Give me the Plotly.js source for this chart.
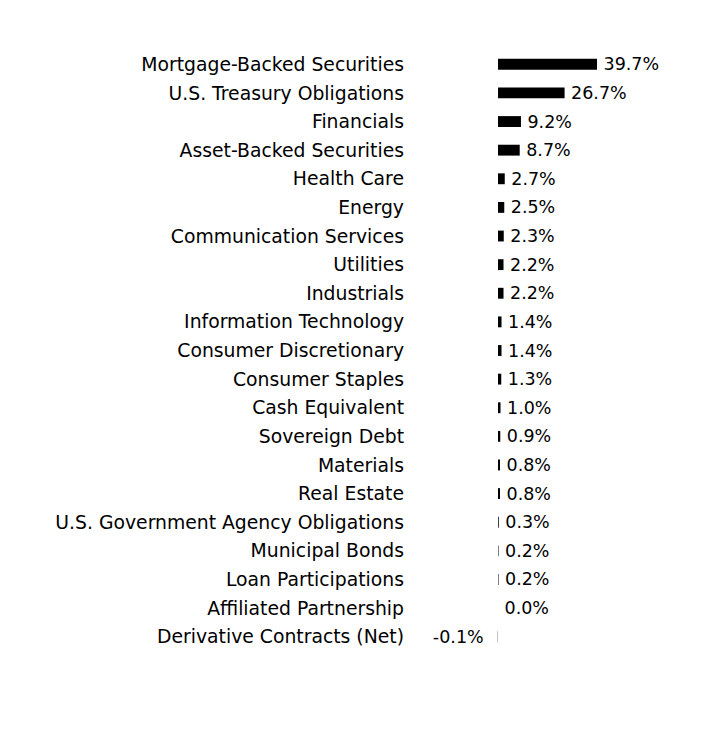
<!DOCTYPE html>
<html><head><meta charset="utf-8">
<script src="https://cdn.plot.ly/plotly-3.0.1.min.js"></script>
<style>html,body{margin:0;padding:0;background:#fff}</style>
</head><body><div id="chart" style="width:708px;height:732px"></div>
<script>
const categories = ["Mortgage-Backed Securities","U.S. Treasury Obligations","Financials","Asset-Backed Securities","Health Care","Energy","Communication Services","Utilities","Industrials","Information Technology","Consumer Discretionary","Consumer Staples","Cash Equivalent","Sovereign Debt","Materials","Real Estate","U.S. Government Agency Obligations","Municipal Bonds","Loan Participations","Affiliated Partnership","Derivative Contracts (Net)"];
const values = [39.7,26.7,9.2,8.7,2.7,2.5,2.3,2.2,2.2,1.4,1.4,1.3,1.0,0.9,0.8,0.8,0.3,0.2,0.2,0.0,-0.1];
const labels = values.map(v => v < 0 ? v.toFixed(1) + "%\u00a0\u00a0" : "\u2009" + v.toFixed(1) + "%");

const FONT = "DejaVu Sans, sans-serif";
const trace = {
  type: "bar", orientation: "h",
  y: categories, x: values,
  text: labels, textposition: "outside", cliponaxis: false,
  constraintext: "none",
  textfont: {family: FONT, size: 17.5, color: "#000"},
  marker: {color: "#000"},
  width: 0.38,
  hoverinfo: "skip"
};
const layout = {
  width: 708, height: 732,
  margin: {l: 410, r: 8, t: 50, b: 81},
  paper_bgcolor: "#fff", plot_bgcolor: "#fff",
  showlegend: false,
  font: {family: FONT, size: 19, color: "#000"},
  xaxis: {range: [-35.3, 81.0], visible: false, fixedrange: true},
  yaxis: {autorange: "reversed", showgrid: false, zeroline: false, showline: false, ticks: "", ticklabelstandoff: 5, tickfont: {family: FONT, size: 18.8, color: "#000"}, fixedrange: true}
};
Plotly.newPlot("chart", [trace], layout, {displayModeBar: false, staticPlot: true});
</script></body></html>
